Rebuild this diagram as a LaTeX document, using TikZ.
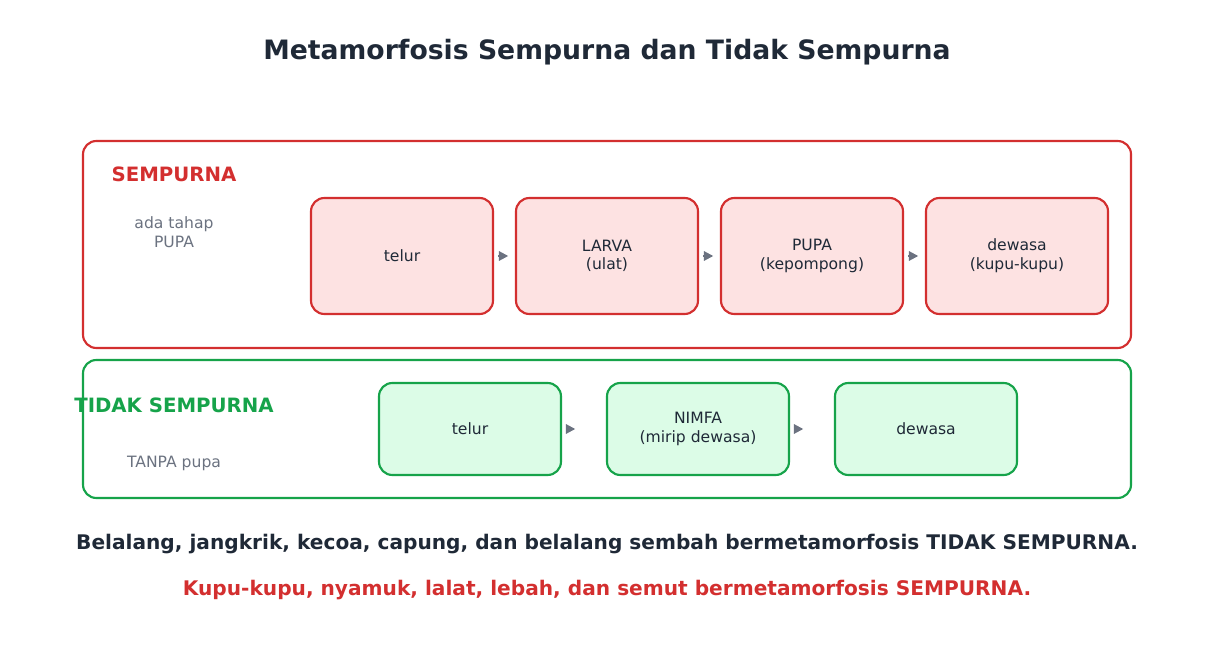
\documentclass[tikz,border=0pt]{standalone}
\usepackage{fontspec}
\setmainfont{DejaVu Sans}
\usetikzlibrary{arrows.meta}
\definecolor{dark}{HTML}{1F2937}
\definecolor{red1}{HTML}{D32F2F}
\definecolor{redf}{HTML}{FDE2E2}
\definecolor{grn}{HTML}{16A34A}
\definecolor{grnf}{HTML}{DCFCE7}
\definecolor{gry}{HTML}{6B7280}
\begin{document}
\begin{tikzpicture}[x=0.75pt,y=-0.75pt,
  outer/.style={draw=#1,line width=1.6pt,rounded corners=10pt},
  rbox/.style={draw=red1,fill=redf,line width=1.6pt,rounded corners=10pt,minimum width=136.5pt,minimum height=87pt,align=center,font=\fontsize{11.7}{14}\selectfont,text=dark},
  gbox/.style={draw=grn,fill=grnf,line width=1.6pt,rounded corners=10pt,minimum width=136.5pt,minimum height=69pt,align=center,font=\fontsize{11.7}{14}\selectfont,text=dark},
  arr/.style={draw=gry,line width=1.5pt,-{Triangle[length=7pt,width=7pt]},shorten <=3pt,shorten >=5pt},
  garr/.style={arr,shorten >=23pt},
  lab/.style={font=\fontsize{11.7}{14}\selectfont,text=gry,align=center}]
\useasboundingbox (0,0) rectangle (1214,652);
\node[font=\bfseries\fontsize{20}{24}\selectfont,text=dark] (title) at (607,52) {Metamorfosis Sempurna dan Tidak Sempurna};
\draw[outer=red1] (83,141) rectangle (1131,348);
\draw[outer=grn] (83,360) rectangle (1131,498);
\node[font=\bfseries\fontsize{14.8}{17}\selectfont,text=red1] (s) at (174,174) {SEMPURNA};
\node[lab] (s2) at (174,232) {ada tahap\\PUPA};
\node[font=\bfseries\fontsize{14.8}{17}\selectfont,text=grn] (t) at (174,405) {TIDAK SEMPURNA};
\node[lab] (t2) at (174,463) {TANPA pupa};
\node[rbox] (r1) at (402,256) {telur};
\node[rbox] (r2) at (607,256) {LARVA\\(ulat)};
\node[rbox] (r3) at (812,256) {PUPA\\(kepompong)};
\node[rbox] (r4) at (1017,256) {dewasa\\(kupu-kupu)};
\node[gbox] (g1) at (470,429) {telur};
\node[gbox] (g2) at (698,429) {NIMFA\\(mirip dewasa)};
\node[gbox] (g3) at (926,429) {dewasa};
\draw[arr] (r1) -- (r2);
\draw[arr] (r2) -- (r3);
\draw[arr] (r3) -- (r4);
\draw[garr] (g1) -- (g2);
\draw[garr] (g2) -- (g3);
\node[font=\bfseries\fontsize{15.1}{18}\selectfont,text=dark] (b1) at (607,544) {Belalang, jangkrik, kecoa, capung, dan belalang sembah bermetamorfosis TIDAK SEMPURNA.};
\node[font=\bfseries\fontsize{15.1}{18}\selectfont,text=red1] (b2) at (607,590) {Kupu-kupu, nyamuk, lalat, lebah, dan semut bermetamorfosis SEMPURNA.};
\end{tikzpicture}
\end{document}
